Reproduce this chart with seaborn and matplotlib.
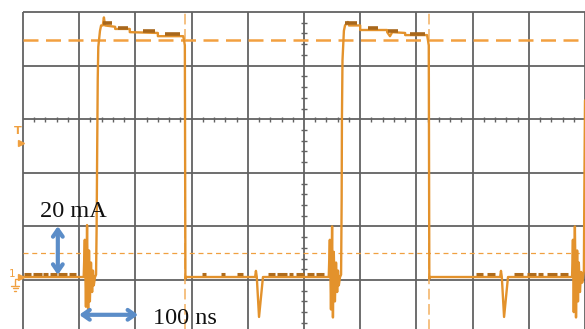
import matplotlib
matplotlib.use("Agg")
import matplotlib.pyplot as plt
import seaborn as sns

# ---- data (time in ns, current in mA; 100 ns/div, 20 mA/div) ----
time_ns = [0, 108, 110, 112, 114, 116, 117.5, 119, 121, 123, 124.5, 126, 128,
           130, 131, 132, 133, 134, 137, 139, 142, 144, 146, 164, 164, 190, 190,
           240, 240, 285, 286.5, 288, 289, 290,
           413, 414.5, 416, 420, 427,
           544, 546, 548, 550, 551.5, 553, 555, 557, 559, 560.5, 562, 564,
           566, 567, 567.5, 568.5, 571, 573, 578, 580, 600, 600, 648, 648, 653,
           657, 680, 680, 719, 720.5, 722, 723, 724,
           849, 850.5, 852, 856, 863,
           977, 978.5, 980, 982, 984, 986, 987.5, 989, 991, 993, 995, 996.5,
           998, 999, 1000]
current_mA = [1.1, 1.1, 15, -10, 20.5, -14, 11, -8, 6.5, -4.5, 3.5, -2, 1,
              2, 19, 48, 75, 87, 93, 95, 95, 98, 95, 94.5, 93.7, 93.7, 92.5,
              92.2, 91, 91, 89.6, 87.5, 0.5, 1.1,
              1.1, 3.4, 1.1, -13.8, 1.1,
              1.1, 15, -11, 20, -14, 10.5, -8, 6.5, -4.5, 3.5, -2, 1,
              2, 30, 60, 82, 93, 95, 96.3, 95, 95, 93.3, 93.3, 92.5, 91,
              92.5, 92.2, 91.4, 91.4, 89.6, 87.5, 0.5, 1.1,
              1.1, 3.4, 1.1, -13.8, 1.1,
              1.1, 15, -12, 20, -14, 11, -8, 6.5, -4.5, 3, -1, 1,
              3.5, 37, 67]

# baseline digitizer noise dashes (ns)
noise_start = [2, 17, 36, 48, 63, 82, 318, 352, 380, 436, 452, 474, 486, 505, 522,
               806, 826, 874, 896, 916, 932, 956]
noise_end = [14, 33, 45, 60, 78, 95, 326, 360, 392, 448, 470, 480, 500, 518, 536,
             818, 840, 890, 912, 926, 950, 970]
# noise on pulse tops
top_start = [142, 169, 213, 253, 573, 614, 649, 688]
top_end = [158, 187, 235, 279, 594, 632, 667, 715]
top_level = [95.9, 94.0, 92.9, 91.8, 95.9, 94.0, 92.9, 91.8]

# cursors
upper_cursor_mA = 89.6
lower_cursor_mA = 10.1
time_cursors_ns = [288, 722]

# grid
grid_t = [0, 100, 200, 300, 400, 500, 600, 700, 800, 900, 1000]
grid_i = [0, 20, 40, 60, 80, 100]

# ---- figure ----
fig = plt.figure(figsize=(5.85, 3.29), dpi=100)
sns.set_style("white")
ax = fig.add_axes([0, 0, 1, 1])
x_lo, x_hi = -40.9, 1000
y_lo, y_hi = -18.3, 104.5
ax.set_xlim(x_lo, x_hi)
ax.set_ylim(y_lo, y_hi)
ax.axis("off")

grid_c = "#626262"
ax.hlines(grid_i, 0, 1000, color=grid_c, lw=1.3, zorder=1)
ax.vlines(grid_t, y_lo - 5, 100, color=grid_c, lw=1.3, zorder=1)
# centre cross minor ticks
minor_t = [t for t in range(20, 1000, 20) if t % 100 != 0]
ax.vlines(minor_t, 60 - 1.0, 60 + 1.0, color=grid_c, lw=1.0, zorder=1)
minor_i = [i for i in range(-16, 100, 4) if i % 20 != 0]
ax.hlines(minor_i, 500 - 4.5, 500 + 4.5, color=grid_c, lw=1.0, zorder=1)

# cursors
ax.axhline(upper_cursor_mA, xmin=(0 - x_lo) / (x_hi - x_lo), color="#F2A040",
           lw=1.8, ls=(0, (6, 3)), zorder=2)
ax.axhline(lower_cursor_mA, xmin=(0 - x_lo) / (x_hi - x_lo), color="#F0A040",
           lw=0.9, ls=(0, (4, 3)), zorder=2)
ax.vlines(time_cursors_ns, y_lo - 5, 100, color="#F2B060", lw=1.1,
          linestyles=[(0, (7, 3))], zorder=2)

# trace
sns.lineplot(x=time_ns, y=current_mA, ax=ax, sort=False, estimator=None,
             color="#E3922C", lw=1.7, zorder=4)
ax.hlines([2.4] * len(noise_start), noise_start, noise_end, color="#B06C1C",
          lw=2.2, zorder=5)
ax.hlines(top_level, top_start, top_end, color="#A8671B", lw=2.6, zorder=5)

# annotations
blue = "#5B8DC8"
ax.annotate("", xy=(62, 20.1), xytext=(62, 1.9),
            arrowprops=dict(arrowstyle="<->,head_length=0.5,head_width=0.35",
                            color=blue, lw=3, shrinkA=0, shrinkB=0), zorder=6)
ax.annotate("", xy=(100, -13), xytext=(205, -13),
            arrowprops=dict(arrowstyle="<->,head_length=0.5,head_width=0.35",
                            color=blue, lw=3, shrinkA=0, shrinkB=0), zorder=6)
ax.text(30, 25.7, "20 mA", family="Liberation Serif", fontsize=17.5,
        ha="left", va="center", color="#111111", zorder=7)
ax.text(231, -14.5, "100 ns", family="Liberation Serif", fontsize=17.5,
        ha="left", va="center", color="#111111", zorder=7)

# left-side scope markers (pixel overlay)
ov = fig.add_axes([0, 0, 1, 1])
ov.set_xlim(0, 585)
ov.set_ylim(329, 0)
ov.axis("off")
ov.patch.set_alpha(0)
mk = "#F0A040"
ov.text(18, 131, "T", color=mk, fontsize=8, ha="center", va="center",
        fontweight="bold")
ov.plot([20.5], [143], marker=">", color=mk, ms=5, ls="none")
ov.text(12.5, 274, "1", color=mk, fontsize=7.5, ha="center", va="center")
ov.plot([20.5], [277], marker=">", color=mk, ms=5, ls="none")
ov.plot([15, 15], [280, 285], color=mk, lw=1)
ov.plot([15, 19], [279, 279], color=mk, lw=1)
ov.plot([11, 19], [285.5, 285.5], color=mk, lw=1)
ov.plot([12.5, 17.5], [288, 288], color=mk, lw=1)
ov.plot([14, 16], [290.5, 290.5], color=mk, lw=1)

fig.savefig("out.png", dpi=100)
